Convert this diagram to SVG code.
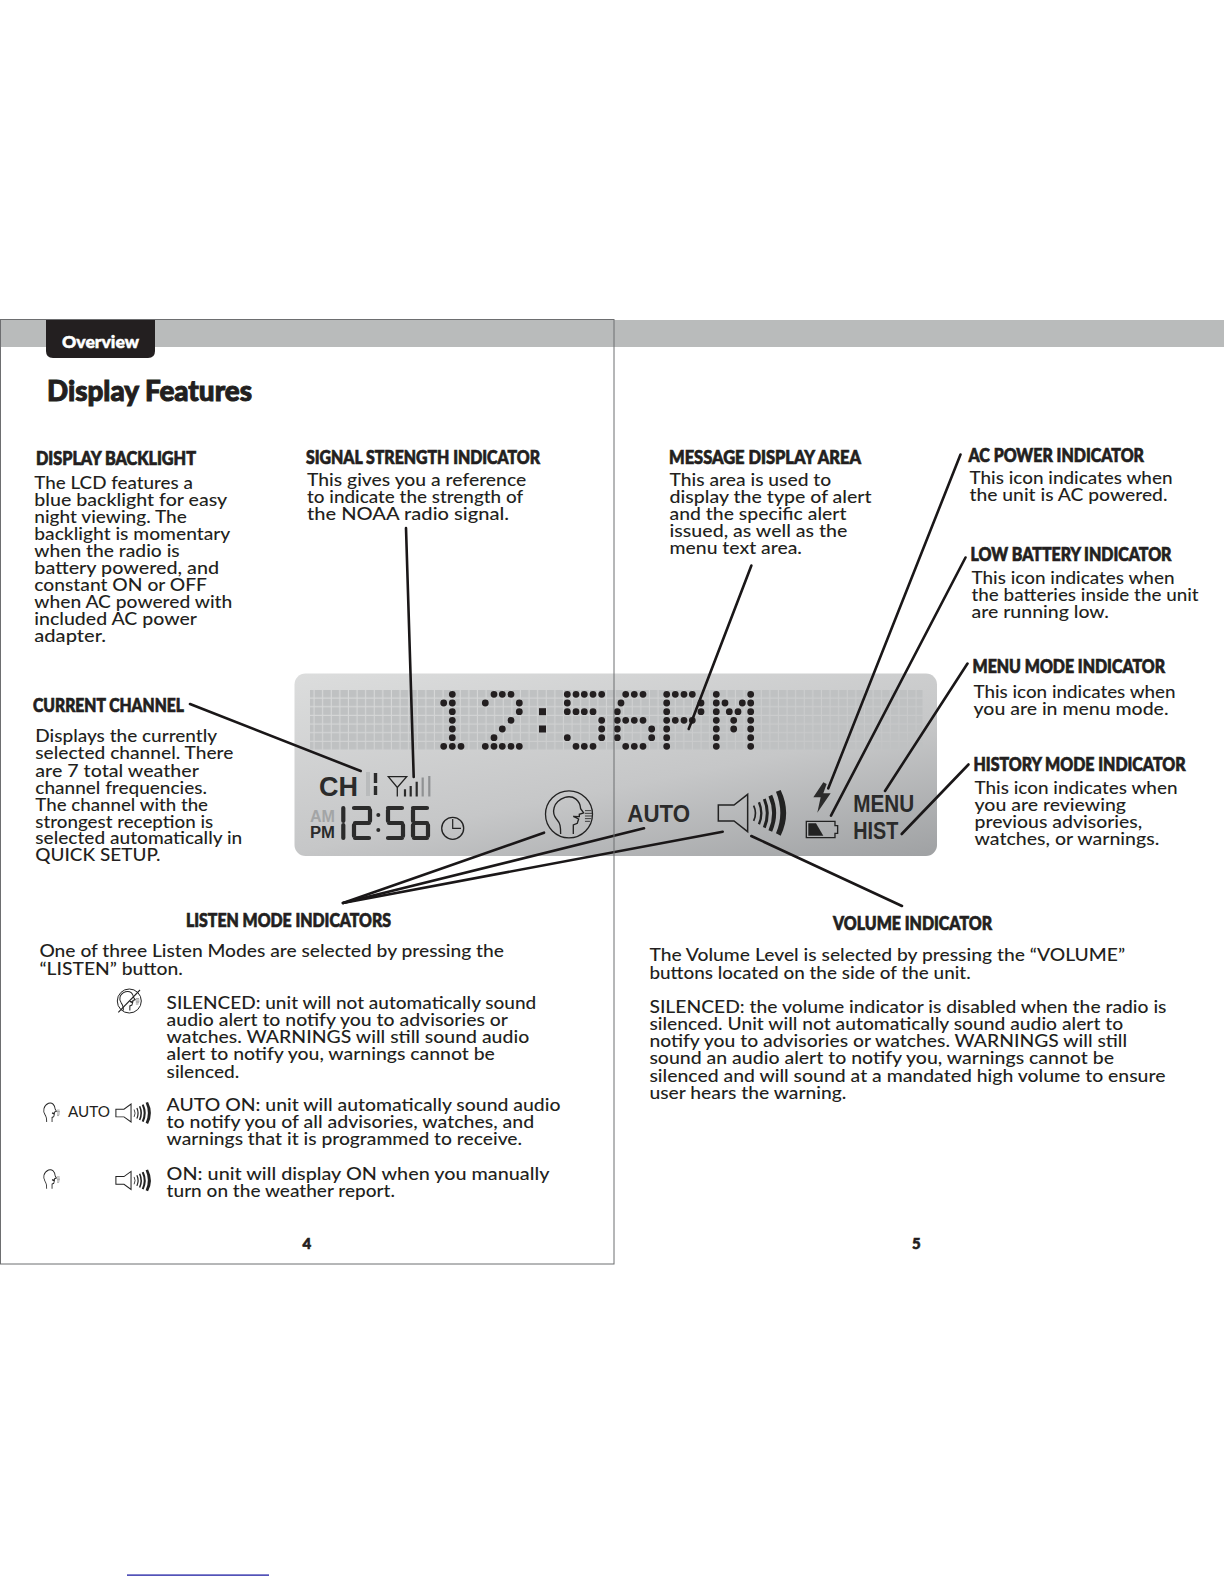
<svg xmlns="http://www.w3.org/2000/svg" width="1224" height="1584" viewBox="0 0 1224 1584">
<style>
text{font-family:"Lato","Liberation Sans",sans-serif;fill:#231f20}
.b{font-size:18px;font-weight:500;transform:translateY(1px)}
.h{font-size:18px;font-weight:900;stroke:#231f20;stroke-width:.7px;transform:translateY(1px)}
.l{font-family:"Liberation Sans",Arial,sans-serif;font-weight:700;fill:#2b2b2b}
.c{fill:none;stroke:#1a1718;stroke-width:2.6;stroke-linecap:round}
.i{fill:none;stroke:#222;stroke-linecap:butt}
.d{fill:none;stroke:#231f20;stroke-width:6.8;stroke-linecap:round}
.s{fill:none;stroke:#2b2b2b;stroke-width:4.2;stroke-linecap:round}
</style>
<defs>
<linearGradient id="lcd" gradientUnits="userSpaceOnUse" x1="294" y1="673" x2="353" y2="969">
<stop offset="0" stop-color="#dcdddd"/><stop offset="0.58" stop-color="#c6c7c8"/><stop offset="1" stop-color="#a0a2a4"/>
</linearGradient>
<pattern id="cells" x="306" y="690" width="8.6" height="8.65" patternUnits="userSpaceOnUse">
<rect x="0" y="0" width="7.5" height="7.5" fill="#bfc1c2"/>
</pattern>
<g id="head" class="i">
<path d="M812 522C812 500 811 490 800 478C784 458 788 425 825 412C852 405 870 422 872 446L881 459L868 463L868 470L850 469L866 477L862 490L850 495L850 522"/>
<path d="M885 452H904M885 460H906M885 468H906M885 476H904M885 484H900" stroke-width="2.5"/>
</g>
<g id="spk" class="i">
<path d="M325 435H372L413 403V515L372 483H325Z"/>
<path d="M431 437Q442 460 431 483" stroke-width="5"/>
<path d="M447 427Q461 460 447 493" stroke-width="7"/>
<path d="M463 417Q481 460 463 503" stroke-width="9"/>
<path d="M481 407Q504 460 481 513" stroke-width="12"/>
<path d="M498 395L512 390Q545 460 512 527L498 520Q524 460 498 395Z" fill="#222" stroke="none"/>
</g>
</defs>
<rect width="1224" height="1584" fill="#fff"/>
<g id="header">
<rect x="0" y="320" width="1224" height="27" fill="#b9bbbb"/>
<path d="M46 320H155V351Q155 358 148 358H53Q46 358 46 351Z" fill="#231f20"/>
<text x="62" y="347.5" textLength="77" lengthAdjust="spacingAndGlyphs" style="font-size:17.5px;font-weight:900;fill:#fff;stroke:#fff;stroke-width:.5px">Overview</text>
<text x="47" y="400.5" textLength="205" lengthAdjust="spacingAndGlyphs" style="font-size:29px;font-weight:900;stroke:#231f20;stroke-width:1px">Display Features</text>
</g>
<g id="lcd-panel">
<rect x="294.5" y="673.5" width="642.5" height="182.5" rx="11" fill="url(#lcd)"/>
<rect x="310" y="690" width="612.5" height="60" fill="url(#cells)"/>
<path class="d" d="M452.3 694.3h0M443.7 703h0M452.3 703h0M452.3 711.7h0M452.3 720.3h0M452.3 729h0M452.3 737.7h0M443.7 746.3h0M452.3 746.3h0M461 746.3h0
M494 694.3h0M502.3 694.3h0M511 694.3h0M485.3 703h0M519.3 703h0M519.3 711.7h0M511 720.3h0M502.3 729h0M494 737.7h0M485.3 746.3h0M494 746.3h0M502.3 746.3h0M511 746.3h0M519.3 746.3h0
M567.3 694.3h0M576 694.3h0M584.3 694.3h0M593 694.3h0M601.7 694.3h0M567.3 703h0M567.3 711.7h0M576 711.7h0M584.3 711.7h0M593 711.7h0M601.7 720.3h0M601.7 729h0M567.3 737.7h0M601.7 737.7h0M576 746.3h0M584.3 746.3h0M593 746.3h0
M625.7 694.3h0M634.3 694.3h0M643 694.3h0M621 703h0M617.3 711.7h0M617.3 720.3h0M625.7 720.3h0M634.3 720.3h0M643 720.3h0M617.3 729h0M651.7 729h0M617.3 737.7h0M651.7 737.7h0M625.7 746.3h0M634.3 746.3h0M643 746.3h0
M666.7 694.3h0M675.3 694.3h0M684 694.3h0M692.3 694.3h0M666.7 703h0M701 703h0M666.7 711.7h0M701 711.7h0M666.7 720.3h0M675.3 720.3h0M684 720.3h0M692.3 720.3h0M666.7 729h0M666.7 737.7h0M666.7 746.3h0
M716.3 694.3h0M750.7 694.3h0M716.3 703h0M725 703h0M742.3 703h0M750.7 703h0M716.3 711.7h0M729.3 711.7h0M738 711.7h0M750.7 711.7h0M716.3 720.3h0M733.7 720.3h0M750.7 720.3h0M716.3 729h0M733.7 729h0M750.7 729h0M716.3 737.7h0M750.7 737.7h0M716.3 746.3h0M750.7 746.3h0"/>
<rect x="539" y="708.2" width="7" height="7" fill="#231f20"/><rect x="539" y="725.5" width="7" height="7" fill="#231f20"/>
</g>
<g id="channel-icon">
<text class="l" x="319" y="796" textLength="39" lengthAdjust="spacingAndGlyphs" style="font-size:27px">CH</text>
<rect x="366" y="772" width="4" height="24" fill="#b9bbbc"/>
<path d="M375.5 773V783M375.5 786V795" stroke="#2b2b2b" stroke-width="3.4" fill="none"/>
</g>
<g id="signal-icon">
<path class="i" d="M388.3 776.7H406.7L397.3 787.5ZM397.3 787.5V796.5" stroke-width="1.3"/>
<path d="M405 789.3V796.5M410.7 786V796.5M416.7 781.7V796.5" stroke="#2b2b2b" stroke-width="2.2" fill="none"/>
<path d="M422.7 777.5V796.5M429.3 776V796.5" stroke="#8f9193" stroke-width="2.2" fill="none"/>
</g>
<g id="clock-icon">
<text class="l" x="310" y="821.7" textLength="25" lengthAdjust="spacingAndGlyphs" style="font-size:16px;fill:#a3a5a6">AM</text>
<text class="l" x="310" y="837.7" textLength="25" lengthAdjust="spacingAndGlyphs" style="font-size:16px">PM</text>
<path class="s" d="M343.3 808V821M343.3 825V838
M354 808H369M370 810V821M369 823H355M354 825V836M355 838H369
M388 808H402M388 810V821M389 823H402M403 825V836M388 838H402
M413 808H427M413 810V821M414 823H427M413 825V836M428 825V836M414 838H427"/>
<circle cx="378.3" cy="815" r="2" fill="#2b2b2b"/><circle cx="378.3" cy="830" r="2" fill="#2b2b2b"/>
<circle class="i" cx="452.7" cy="828.3" r="11" stroke-width="1.3"/>
<path class="i" d="M452.7 819V828.3H461" stroke-width="1.2"/>
</g>
<g id="listen-icon">
<circle class="i" cx="569" cy="814.3" r="23.5" stroke-width="1.3"/>
<use href="#head" stroke-width="4" transform="translate(290 660) scale(.3333)"/>
</g>
<g id="auto-icon"><text class="l" x="627.3" y="822.3" textLength="62.7" lengthAdjust="spacingAndGlyphs" style="font-size:24px">AUTO</text></g>
<g id="speaker-icon"><use href="#spk" stroke-width="4.5" transform="translate(610 660) scale(.3333)"/></g>
<g id="power-icon" transform="translate(610 660) scale(.3333)"><path d="M640 367L610 412H632L622 458L662 400H640L650 372Z" fill="#2b2b2b"/></g>
<g id="battery-icon" transform="translate(610 660) scale(.3333)">
<path d="M589 484H675V497H683V520H675V533H589Z" fill="none" stroke="#222" stroke-width="4"/>
<path d="M595 490H618L640 527H595Z" fill="#222"/>
</g>
<g id="menu-icon"><text class="l" x="853.3" y="811.7" textLength="61" lengthAdjust="spacingAndGlyphs" style="font-size:23px">MENU</text></g>
<g id="hist-icon"><text class="l" x="853.3" y="839" textLength="45" lengthAdjust="spacingAndGlyphs" style="font-size:23px">HIST</text></g>
<g id="connectors">
<path class="c" d="M190 704L360.7 771"/>
<path class="c" d="M406 528L413.7 777"/>
<path class="c" d="M751.4 565.5L688.7 729"/>
<path class="c" d="M960.5 454.5L828.3 788.3"/>
<path class="c" d="M965.5 557.5L831 815.7"/>
<path class="c" d="M967.5 663.5L885 791"/>
<path class="c" d="M968.5 764.5L901.7 834"/>
<path class="c" d="M343 903L544 832.7"/>
<path class="c" d="M343 903L644 828.3"/>
<path class="c" d="M343 903L722.7 831.7"/>
<path class="c" d="M751.3 836L902 906"/>
</g>
<g id="display-backlight">
<text class="h" x="36" y="464" textLength="160" lengthAdjust="spacingAndGlyphs">DISPLAY BACKLIGHT</text>
<text class="b" x="34.3" y="487.7" textLength="158.6" lengthAdjust="spacingAndGlyphs">The LCD features a</text>
<text class="b" x="34.3" y="504.8" textLength="192.9" lengthAdjust="spacingAndGlyphs">blue backlight for easy</text>
<text class="b" x="34.3" y="521.8" textLength="152.5" lengthAdjust="spacingAndGlyphs">night viewing. The</text>
<text class="b" x="34.3" y="538.9" textLength="196" lengthAdjust="spacingAndGlyphs">backlight is momentary</text>
<text class="b" x="34.3" y="555.9" textLength="145.4" lengthAdjust="spacingAndGlyphs">when the radio is</text>
<text class="b" x="34.3" y="573" textLength="184.8" lengthAdjust="spacingAndGlyphs">battery powered, and</text>
<text class="b" x="34.3" y="590" textLength="172.7" lengthAdjust="spacingAndGlyphs">constant ON or OFF</text>
<text class="b" x="34.3" y="607.1" textLength="198" lengthAdjust="spacingAndGlyphs">when AC powered with</text>
<text class="b" x="34.3" y="624.1" textLength="162.6" lengthAdjust="spacingAndGlyphs">included AC power</text>
<text class="b" x="34.3" y="641.2" textLength="71.7" lengthAdjust="spacingAndGlyphs">adapter.</text>
</g>
<g id="signal-strength">
<text class="h" x="306" y="463" textLength="234" lengthAdjust="spacingAndGlyphs">SIGNAL STRENGTH INDICATOR</text>
<text class="b" x="307" y="484.7" textLength="219.2" lengthAdjust="spacingAndGlyphs">This gives you a reference</text>
<text class="b" x="307" y="501.9" textLength="216.1" lengthAdjust="spacingAndGlyphs">to indicate the strength of</text>
<text class="b" x="307" y="519" textLength="202" lengthAdjust="spacingAndGlyphs">the NOAA radio signal.</text>
</g>
<g id="message-display">
<text class="h" x="669" y="463" textLength="192" lengthAdjust="spacingAndGlyphs">MESSAGE DISPLAY AREA</text>
<text class="b" x="669.6" y="484.7" textLength="161.6" lengthAdjust="spacingAndGlyphs">This area is used to</text>
<text class="b" x="669.6" y="501.9" textLength="202" lengthAdjust="spacingAndGlyphs">display the type of alert</text>
<text class="b" x="669.6" y="519" textLength="176.8" lengthAdjust="spacingAndGlyphs">and the specific alert</text>
<text class="b" x="669.6" y="536.2" textLength="177.8" lengthAdjust="spacingAndGlyphs">issued, as well as the</text>
<text class="b" x="669.6" y="553.4" textLength="132.3" lengthAdjust="spacingAndGlyphs">menu text area.</text>
</g>
<g id="ac-power">
<text class="h" x="968.5" y="461" textLength="175.5" lengthAdjust="spacingAndGlyphs">AC POWER INDICATOR</text>
<text class="b" x="969.5" y="482.7" textLength="203" lengthAdjust="spacingAndGlyphs">This icon indicates when</text>
<text class="b" x="969.5" y="499.8" textLength="198" lengthAdjust="spacingAndGlyphs">the unit is AC powered.</text>
</g>
<g id="low-battery">
<text class="h" x="970.5" y="559.5" textLength="201" lengthAdjust="spacingAndGlyphs">LOW BATTERY INDICATOR</text>
<text class="b" x="971.5" y="582.7" textLength="203" lengthAdjust="spacingAndGlyphs">This icon indicates when</text>
<text class="b" x="971.5" y="599.8" textLength="227.2" lengthAdjust="spacingAndGlyphs">the batteries inside the unit</text>
<text class="b" x="971.5" y="617" textLength="137.4" lengthAdjust="spacingAndGlyphs">are running low.</text>
</g>
<g id="menu-mode">
<text class="h" x="972.5" y="671.5" textLength="192.5" lengthAdjust="spacingAndGlyphs">MENU MODE INDICATOR</text>
<text class="b" x="973.5" y="696.8" textLength="202" lengthAdjust="spacingAndGlyphs">This icon indicates when</text>
<text class="b" x="973.5" y="713.9" textLength="195" lengthAdjust="spacingAndGlyphs">you are in menu mode.</text>
</g>
<g id="history-mode">
<text class="h" x="973.5" y="769.5" textLength="212" lengthAdjust="spacingAndGlyphs">HISTORY MODE INDICATOR</text>
<text class="b" x="974.5" y="792.7" textLength="203" lengthAdjust="spacingAndGlyphs">This icon indicates when</text>
<text class="b" x="974.5" y="809.9" textLength="151.5" lengthAdjust="spacingAndGlyphs">you are reviewing</text>
<text class="b" x="974.5" y="827" textLength="167.7" lengthAdjust="spacingAndGlyphs">previous advisories,</text>
<text class="b" x="974.5" y="844.2" textLength="184.8" lengthAdjust="spacingAndGlyphs">watches, or warnings.</text>
</g>
<g id="current-channel">
<text class="h" x="33" y="711" textLength="151" lengthAdjust="spacingAndGlyphs">CURRENT CHANNEL</text>
<text class="b" x="35.3" y="741.2" textLength="181.8" lengthAdjust="spacingAndGlyphs">Displays the currently</text>
<text class="b" x="35.3" y="758.4" textLength="198" lengthAdjust="spacingAndGlyphs">selected channel. There</text>
<text class="b" x="35.3" y="775.5" textLength="163.6" lengthAdjust="spacingAndGlyphs">are 7 total weather</text>
<text class="b" x="35.3" y="792.7" textLength="171.7" lengthAdjust="spacingAndGlyphs">channel frequencies.</text>
<text class="b" x="35.3" y="809.9" textLength="172.7" lengthAdjust="spacingAndGlyphs">The channel with the</text>
<text class="b" x="35.3" y="827" textLength="177.8" lengthAdjust="spacingAndGlyphs">strongest reception is</text>
<text class="b" x="35.3" y="843.2" textLength="207" lengthAdjust="spacingAndGlyphs">selected automatically in</text>
<text class="b" x="35.3" y="860.4" textLength="125.2" lengthAdjust="spacingAndGlyphs">QUICK SETUP.</text>
</g>
<g id="listen-mode">
<text class="h" x="186" y="926" textLength="205" lengthAdjust="spacingAndGlyphs">LISTEN MODE INDICATORS</text>
<text class="b" x="39.4" y="956.3" textLength="464.6" lengthAdjust="spacingAndGlyphs">One of three Listen Modes are selected by pressing the</text>
<text class="b" x="39.4" y="973.5" textLength="143.4" lengthAdjust="spacingAndGlyphs">“LISTEN” button.</text>
<g id="silenced-icon">
<circle class="i" cx="129.3" cy="1001" r="12" stroke-width="1"/>
<use href="#head" stroke-width="6" transform="translate(-15.5 921.3) scale(.171)"/>
<path class="i" d="M118.3 1012.3L140 990" stroke-width="1.1"/>
</g>
<text class="b" x="166.6" y="1007.8" textLength="369.7" lengthAdjust="spacingAndGlyphs">SILENCED: unit will not automatically sound</text>
<text class="b" x="166.6" y="1025" textLength="341.4" lengthAdjust="spacingAndGlyphs">audio alert to notify you to advisories or</text>
<text class="b" x="166.6" y="1042.1" textLength="362.6" lengthAdjust="spacingAndGlyphs">watches. WARNINGS will still sound audio</text>
<text class="b" x="166.6" y="1059.3" textLength="328.3" lengthAdjust="spacingAndGlyphs">alert to notify you, warnings cannot be</text>
<text class="b" x="166.6" y="1076.5" textLength="72.7" lengthAdjust="spacingAndGlyphs">silenced.</text>
<g id="auto-on-icons">
<use href="#head" stroke-width="6" transform="translate(-67.8 1033.3) scale(.141 .17)"/>
<text x="68" y="1117" textLength="42" lengthAdjust="spacingAndGlyphs" style="font-size:15.5px">AUTO</text>
<use href="#spk" stroke-width="6" transform="translate(60 1039.6) scale(.172 .16)"/>
</g>
<text class="b" x="166.6" y="1109.8" textLength="393.9" lengthAdjust="spacingAndGlyphs">AUTO ON: unit will automatically sound audio</text>
<text class="b" x="166.6" y="1127" textLength="367.6" lengthAdjust="spacingAndGlyphs">to notify you of all advisories, watches, and</text>
<text class="b" x="166.6" y="1144.2" textLength="355.5" lengthAdjust="spacingAndGlyphs">warnings that it is programmed to receive.</text>
<g id="on-icons">
<use href="#head" stroke-width="6" transform="translate(-67.8 1100) scale(.141 .17)"/>
<use href="#spk" stroke-width="6" transform="translate(60 1107) scale(.172 .16)"/>
</g>
<text class="b" x="166.6" y="1178.5" textLength="382.8" lengthAdjust="spacingAndGlyphs">ON: unit will display ON when you manually</text>
<text class="b" x="166.6" y="1195.6" textLength="228.3" lengthAdjust="spacingAndGlyphs">turn on the weather report.</text>
</g>
<g id="volume-indicator">
<text class="h" x="833" y="929" textLength="159" lengthAdjust="spacingAndGlyphs">VOLUME INDICATOR</text>
<text class="b" x="649.4" y="960.3" textLength="475.7" lengthAdjust="spacingAndGlyphs">The Volume Level is selected by pressing the “VOLUME”</text>
<text class="b" x="649.4" y="977.5" textLength="321.2" lengthAdjust="spacingAndGlyphs">buttons located on the side of the unit.</text>
<text class="b" x="649.4" y="1011.9" textLength="517.1" lengthAdjust="spacingAndGlyphs">SILENCED: the volume indicator is disabled when the radio is</text>
<text class="b" x="649.4" y="1029" textLength="473.7" lengthAdjust="spacingAndGlyphs">silenced. Unit will not automatically sound audio alert to</text>
<text class="b" x="649.4" y="1046.2" textLength="477.7" lengthAdjust="spacingAndGlyphs">notify you to advisories or watches. WARNINGS will still</text>
<text class="b" x="649.4" y="1063.4" textLength="464.6" lengthAdjust="spacingAndGlyphs">sound an audio alert to notify you, warnings cannot be</text>
<text class="b" x="649.4" y="1080.5" textLength="516.1" lengthAdjust="spacingAndGlyphs">silenced and will sound at a mandated high volume to ensure</text>
<text class="b" x="649.4" y="1097.7" textLength="197" lengthAdjust="spacingAndGlyphs">user hears the warning.</text>
</g>
<g id="page-numbers">
<text x="302.5" y="1249" style="font-size:15px;font-weight:900;stroke:#231f20;stroke-width:.6px">4</text>
<text x="912" y="1249" style="font-size:15px;font-weight:900;stroke:#231f20;stroke-width:.6px">5</text>
</g>
<rect id="page-frame" x="0.5" y="319.5" width="613.5" height="944.5" fill="none" stroke="#6d6e70" stroke-width="1"/>
<rect id="rule" x="127" y="1574.5" width="142" height="1.2" fill="#0b0b9b"/>
</svg>
